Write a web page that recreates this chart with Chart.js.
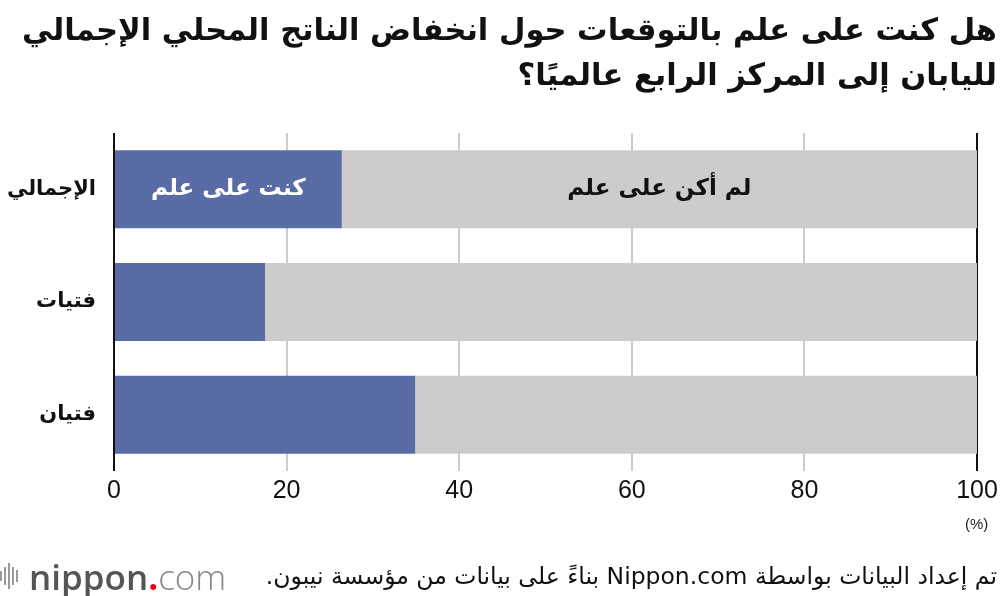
<!DOCTYPE html>
<html>
<head>
<meta charset="utf-8">
<script src="https://cdn.jsdelivr.net/npm/chart.js@4"></script>
<style>
  html, body { margin: 0; padding: 0; background: #fff; }
  #wrap { position: relative; width: 1000px; height: 596px; overflow: hidden; }
  #c { position: absolute; left: 0; top: 0; }
  .title { position: absolute; right: 3px; top: 7px; direction: rtl; text-align: right; white-space: nowrap;
           font-family: "DejaVu Sans", sans-serif; font-weight: bold; font-size: 30.5px; line-height: 45px; color: #111; }
  .foot { position: absolute; right: 3px; top: 561px; direction: rtl; white-space: nowrap;
          font-family: "DejaVu Sans", sans-serif; font-size: 23.5px; line-height: 30px; color: #111; }
  .pct { position: absolute; left: 965px; top: 515px; font-family: "Liberation Sans", sans-serif; font-size: 15px; color: #222; }
  .logo { position: absolute; left: 0; top: 556px; height: 40px; display: flex; align-items: center; }
  .bars { display: flex; align-items: center; height: 30px; margin-right: 9px; }
  .bars span { display: inline-block; width: 2px; background: #999; margin-right: 2px; }
  .logotext { font-family: "Open Sans", "DejaVu Sans", sans-serif; font-size: 35px; color: #666; }
  .logotext b { font-weight: 600; color: #555; }
  .logotext .dot { color: #e60012; font-weight: 700; }
  .logotext .com { font-weight: 300; color: #888; }
</style>
</head>
<body>
<div id="wrap">
  <canvas id="c" width="1000" height="596"></canvas>
  <div class="title">هل كنت على علم بالتوقعات حول انخفاض الناتج المحلي الإجمالي<br>لليابان إلى المركز الرابع عالميًا؟</div>
  <div class="pct">(%)</div>
  <div class="logo">
    <div class="bars"><span style="height:10px"></span><span style="height:18px"></span><span style="height:26px"></span><span style="height:18px"></span><span style="height:12px"></span></div>
    <div class="logotext"><b>nippon</b><span class="dot">.</span><span class="com">com</span></div>
  </div>
  <div class="foot">تم إعداد البيانات بواسطة Nippon.com بناءً على بيانات من مؤسسة نيبون.</div>
</div>
<script>
const categories = ['الإجمالي', 'فتيات', 'فتيان'];
const awareValues = [26.4, 17.5, 34.9];
const notAwareValues = [73.6, 82.5, 65.1];
const seriesNames = ['كنت على علم', 'لم أكن على علم'];
const xTickValues = [0, 20, 40, 60, 80, 100];

const segLabelPlugin = {
  id: 'segLabels',
  afterDatasetsDraw(chart) {
    const ctx = chart.ctx;
    ctx.save();
    ctx.font = 'bold 23px "DejaVu Sans", sans-serif';
    ctx.textAlign = 'center';
    ctx.textBaseline = 'middle';
    ctx.direction = 'rtl';
    chart.data.datasets.forEach((ds, i) => {
      const el = chart.getDatasetMeta(i).data[0];
      const x = (el.x + el.base) / 2;
      ctx.fillStyle = i === 0 ? '#ffffff' : '#111111';
      ctx.fillText(ds.label, x, el.y);
    });
    ctx.restore();
  }
};

new Chart(document.getElementById('c'), {
  type: 'bar',
  data: {
    labels: categories,
    datasets: [
      { label: seriesNames[0], data: awareValues, backgroundColor: '#596ca6' },
      { label: seriesNames[1], data: notAwareValues, backgroundColor: '#cccccc' }
    ]
  },
  options: {
    indexAxis: 'y',
    responsive: false,
    animation: false,
    devicePixelRatio: 1,
    layout: { padding: { top: 133, right: 23, left: 0, bottom: 0 } },
    datasets: { bar: { categoryPercentage: 1, barPercentage: 0.693 } },
    plugins: { legend: { display: false }, tooltip: { enabled: false }, title: { display: false } },
    scales: {
      x: {
        stacked: true,
        min: 0, max: 100,
        afterBuildTicks(scale) { scale.ticks = xTickValues.map(v => ({ value: v })); },
        afterFit(scale) { scale.height = 125; scale.paddingRight = 0; },
        border: { display: false },
        grid: {
          drawTicks: false,
          color: c => (c.tick && (c.tick.value === 0 || c.tick.value === 100)) ? '#111111' : '#cccccc',
          lineWidth: 2
        },
        ticks: {
          padding: 5,
          color: '#111',
          font: { family: '"Liberation Sans", sans-serif', size: 25 },
          maxRotation: 0
        }
      },
      y: {
        stacked: true,
        afterFit(scale) { scale.width = 114; },
        border: { display: false },
        grid: { display: false },
        ticks: {
          padding: 10,
          color: '#111',
          font: { family: '"DejaVu Sans", sans-serif', size: 21, weight: 'bold' }
        }
      }
    }
  },
  plugins: [segLabelPlugin]
});
</script>
</body>
</html>
